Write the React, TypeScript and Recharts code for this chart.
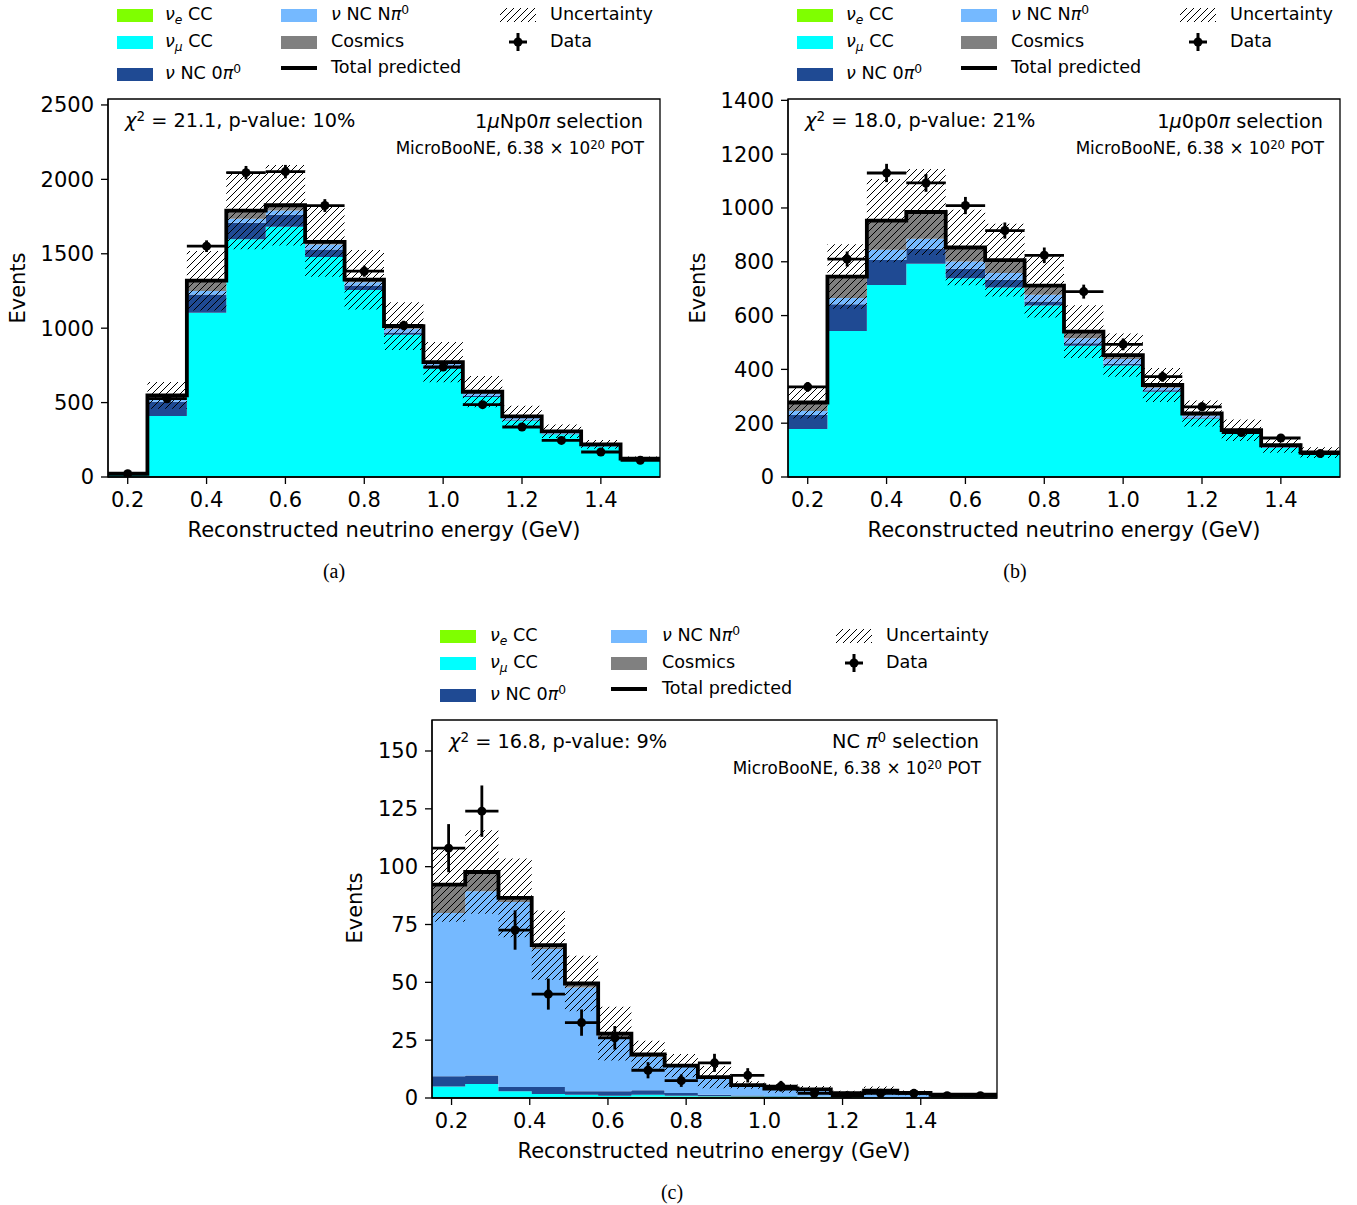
import React from 'react';
import { ComposedChart, Area, Line, Scatter, ErrorBar, XAxis, YAxis, ReferenceArea } from 'recharts';

const FONT = "'DejaVu Sans', sans-serif";
const COL = { nue: '#7fff00', numu: '#00ffff', nc0: '#1f4a93', ncn: '#75b9ff', cos: '#808080' };

// ---------- Panel (a): 1muNp0pi ----------
const edgesA = [0.15, 0.25, 0.35, 0.45, 0.55, 0.65, 0.75, 0.85, 0.95, 1.05, 1.15, 1.25, 1.35, 1.45, 1.55];
const nueA = [1, 3, 5, 5, 5, 4, 4, 3, 3, 2, 2, 1, 1, 1];
const numuA = [17, 407, 1098, 1592, 1677, 1474, 1253, 953, 724, 535, 378, 286, 204, 113];
const nc0A = [2, 95, 124, 112, 80, 50, 30, 15, 10, 8, 6, 4, 3, 2];
const ncnA = [1, 15, 23, 27, 29, 35, 22, 25, 22, 18, 13, 10, 7, 4];
const cosA = [1, 28, 69, 54, 35, 17, 17, 18, 13, 10, 8, 6, 4, 3];
const uncA = [8, 90, 200, 260, 270, 235, 200, 160, 135, 105, 72, 45, 30, 15];
const dataA = [22, 526, 1551, 2045, 2052, 1824, 1383, 1018, 739, 486, 336, 246, 168, 112];
const errA = [5, 23, 39, 45, 45, 43, 37, 32, 27, 22, 18, 16, 13, 11];
const yTicksA = [0, 500, 1000, 1500, 2000, 2500];

// ---------- Panel (b): 1mu0p0pi ----------
const edgesB = [0.15, 0.25, 0.35, 0.45, 0.55, 0.65, 0.75, 0.85, 0.95, 1.05, 1.15, 1.25, 1.35, 1.45, 1.55];
const nueB = [1, 2, 3, 3, 3, 3, 2, 2, 2, 1, 1, 1, 1, 1];
const numuB = [177, 541, 711, 790, 736, 701, 635, 486, 412, 316, 216, 159, 107, 82];
const nc0B = [52, 99, 93, 55, 35, 29, 15, 9, 7, 5, 4, 3, 2, 2];
const ncnB = [15, 23, 38, 38, 27, 25, 25, 19, 18, 10, 8, 5, 4, 3];
const cosB = [32, 80, 108, 99, 52, 48, 34, 24, 14, 10, 7, 6, 4, 3];
const uncB = [60, 120, 155, 160, 140, 135, 118, 98, 80, 63, 48, 40, 28, 20];
const dataB = [335, 810, 1130, 1093, 1009, 916, 824, 689, 493, 373, 261, 165, 145, 87];
const errB = [18, 28, 34, 33, 32, 30, 29, 26, 22, 19, 16, 13, 12, 9];
const yTicksB = [0, 200, 400, 600, 800, 1000, 1200, 1400];

// ---------- Panel (c): NC pi0 ----------
const edgesC = [0.15, 0.235, 0.32, 0.405, 0.49, 0.575, 0.66, 0.745, 0.83, 0.915, 1.0, 1.085, 1.17, 1.255, 1.34, 1.425, 1.51, 1.595];
const nueC = [0.3, 0.2, 0.2, 0.2, 0.3, 0.4, 0.5, 0.5, 0.5, 0.5, 0.4, 0.4, 0.2, 0.2, 0.1, 0.2, 0.1];
const numuC = [4.7, 5.8, 2.7, 1.5, 1.1, 0.6, 0.9, 0.5, 0.3, 0.2, 0.2, 0.1, 0.1, 0.1, 0.1, 0.1, 0.1];
const nc0C = [4.4, 3.7, 1.9, 3.1, 1.5, 1.9, 1.9, 1.2, 0.6, 0.4, 0.3, 0.2, 0.1, 0.1, 0.1, 0.1, 0.1];
const ncnC = [70.6, 79.7, 79.9, 59.6, 44.9, 23.6, 14.5, 11.3, 7.2, 4.3, 3.0, 2.8, 1.6, 2.6, 1.8, 0.9, 1.0];
const cosC = [12.2, 8.3, 1.8, 1.7, 1.7, 1.3, 1.0, 0.5, 0.4, 0.2, 0.2, 0.2, 0.1, 0.2, 0.1, 0.1, 0.1];
const uncC = [16, 18, 17, 15, 12, 11.6, 6, 5, 4.8, 1.6, 1.8, 1.5, 1, 1.8, 1, 0.8, 0.8];
const dataC = [108, 124, 72.6, 44.9, 32.6, 26, 12, 7.5, 15.2, 9.8, 5.1, 2, 1, 2, 2, 1, 1];
const errC = [10.4, 11.1, 8.5, 6.7, 5.7, 5.1, 3.5, 2.7, 3.9, 3.1, 2.3, 1.4, 1, 1.4, 1.4, 1, 1];
const yTicksC = [0, 25, 50, 75, 100, 125, 150];

const xTicks = [0.2, 0.4, 0.6, 0.8, 1.0, 1.2, 1.4];

function buildSteps(edges, nue, numu, nc0, ncn, cos, unc) {
  const n = nue.length;
  const rows = [];
  for (let i = 0; i <= n; i++) {
    const j = Math.min(i, n - 1);
    const total = nue[j] + numu[j] + nc0[j] + ncn[j] + cos[j];
    rows.push({ x: edges[i], nue: nue[j], numu: numu[j], nc0: nc0[j], ncn: ncn[j], cos: cos[j], total, band: [total - unc[j], total + unc[j]] });
  }
  return rows;
}
function buildPoints(edges, data, err) {
  return data.map((y, i) => ({ x: (edges[i] + edges[i + 1]) / 2, y, ex: (edges[i + 1] - edges[i]) / 2, ey: err[i] }));
}

const tickStyle = { fill: '#000', fontSize: 21, fontFamily: FONT };

function Panel({ rows, pts, xDom, yDom, yTicks, width, height, top, plotW }) {
  return (
    <ComposedChart width={width} height={height} data={rows} margin={{ top, right: width - 108 - plotW, left: 0, bottom: height - top - 378 - 40 }}>
      <XAxis type="number" dataKey="x" domain={xDom} allowDataOverflow ticks={xTicks}
        tickFormatter={(v) => v.toFixed(1)} height={40} tickSize={7} tickMargin={8}
        tick={tickStyle} axisLine={{ stroke: '#000', strokeWidth: 1.3 }} tickLine={{ stroke: '#000', strokeWidth: 1.3 }} />
      <YAxis type="number" domain={yDom} allowDataOverflow ticks={yTicks} width={108} tickSize={7} tickMargin={7}
        tick={tickStyle} axisLine={{ stroke: '#000', strokeWidth: 1.3 }} tickLine={{ stroke: '#000', strokeWidth: 1.3 }} />
      <Area type="stepAfter" dataKey="nue" stackId="s" fill={COL.nue} fillOpacity={1} stroke="none" isAnimationActive={false} />
      <Area type="stepAfter" dataKey="numu" stackId="s" fill={COL.numu} fillOpacity={1} stroke="none" isAnimationActive={false} />
      <Area type="stepAfter" dataKey="nc0" stackId="s" fill={COL.nc0} fillOpacity={1} stroke="none" isAnimationActive={false} />
      <Area type="stepAfter" dataKey="ncn" stackId="s" fill={COL.ncn} fillOpacity={1} stroke="none" isAnimationActive={false} />
      <Area type="stepAfter" dataKey="cos" stackId="s" fill={COL.cos} fillOpacity={1} stroke="none" isAnimationActive={false} />
      <Area type="stepAfter" dataKey="band" fill="url(#hatchPat)" fillOpacity={1} stroke="none" isAnimationActive={false} />
      <Line type="stepAfter" dataKey="total" stroke="#000" strokeWidth={3.8} dot={false} isAnimationActive={false} />
      <Scatter data={pts} dataKey="y" fill="#000" isAnimationActive={false}>
        <ErrorBar dataKey="ex" direction="x" width={0} stroke="#000" strokeWidth={2.8} isAnimationActive={false} />
        <ErrorBar dataKey="ey" direction="y" width={0} stroke="#000" strokeWidth={2.8} isAnimationActive={false} />
      </Scatter>
      <ReferenceArea x1={xDom[0]} x2={xDom[1]} y1={yDom[0]} y2={yDom[1]} fill="none" fillOpacity={0}
        stroke="#000" strokeWidth={1.3} ifOverflow="visible" />
    </ComposedChart>
  );
}

function T({ x, y, size = 21, align = 'left', children, family = FONT, rotate = false }) {
  let tr = 'translate(0,-50%)';
  if (align === 'center') tr = 'translate(-50%,-50%)';
  if (align === 'right') tr = 'translate(-100%,-50%)';
  if (rotate) tr = 'translate(-50%,-50%) rotate(-90deg)';
  return (
    <div style={{ position: 'absolute', left: x, top: y, fontSize: size, fontFamily: family, lineHeight: 1, whiteSpace: 'nowrap', transform: tr, color: '#000' }}>
      {children}
    </div>
  );
}

const Sup = ({ children }) => <span style={{ fontSize: '70%', position: 'relative', top: '-0.45em' }}>{children}</span>;
const Sub = ({ children }) => <span style={{ fontSize: '70%', position: 'relative', top: '0.3em' }}>{children}</span>;

function Patch({ x, y, color }) {
  return <div style={{ position: 'absolute', left: x, top: y - 6.5, width: 36, height: 13, background: color }} />;
}

function Legend({ c1, t1, c2, t2, c3, t3, r1, r2, r3a, r3b }) {
  const fs = 17.6;
  return (
    <>
      <Patch x={c1} y={r1} color={COL.nue} />
      <T x={t1} y={r1} size={fs}><i>ν</i><Sub><i>e</i></Sub> CC</T>
      <Patch x={c1} y={r2} color={COL.numu} />
      <T x={t1} y={r2} size={fs}><i>ν</i><Sub><i>μ</i></Sub> CC</T>
      <Patch x={c1} y={r3a} color={COL.nc0} />
      <T x={t1} y={r3a} size={fs}><i>ν</i> NC 0<i>π</i><Sup>0</Sup></T>
      <Patch x={c2} y={r1} color={COL.ncn} />
      <T x={t2} y={r1} size={fs}><i>ν</i> NC N<i>π</i><Sup>0</Sup></T>
      <Patch x={c2} y={r2} color={COL.cos} />
      <T x={t2} y={r2} size={fs}>Cosmics</T>
      <div style={{ position: 'absolute', left: c2, top: r3b - 2, width: 36, height: 4, background: '#000' }} />
      <T x={t2} y={r3b} size={fs}>Total predicted</T>
      <svg style={{ position: 'absolute', left: c3, top: r1 - 7 }} width={36} height={14}>
        <rect x={0} y={0} width={36} height={14} fill="url(#hatchPat)" />
      </svg>
      <T x={t3} y={r1} size={fs}>Uncertainty</T>
      <svg style={{ position: 'absolute', left: c3 + 8, top: r2 - 10 }} width={20} height={20}>
        <line x1={1} y1={10} x2={19} y2={10} stroke="#000" strokeWidth={3} />
        <line x1={10} y1={1} x2={10} y2={19} stroke="#000" strokeWidth={3} />
        <circle cx={10} cy={10} r={4.5} fill="#000" />
      </svg>
      <T x={t3} y={r2} size={fs}>Data</T>
    </>
  );
}

const MB = () => <>MicroBooNE, 6.38 × 10<Sup>20</Sup> POT</>;

export default function App() {
  const rowsA = buildSteps(edgesA, nueA, numuA, nc0A, ncnA, cosA, uncA);
  const rowsB = buildSteps(edgesB, nueB, numuB, nc0B, ncnB, cosB, uncB);
  const rowsC = buildSteps(edgesC, nueC, numuC, nc0C, ncnC, cosC, uncC);
  const ptsA = buildPoints(edgesA, dataA, errA);
  const ptsB = buildPoints(edgesB, dataB, errB);
  const ptsC = buildPoints(edgesC, dataC, errC);
  return (
    <div style={{ position: 'absolute', left: 0, top: 0, width: 1357, height: 1205, background: '#fff', overflow: 'hidden' }}>
      <svg width={0} height={0} style={{ position: 'absolute' }}>
        <defs>
          <pattern id="hatchPat" patternUnits="userSpaceOnUse" width={7} height={7}>
            <path d="M-1,1 L1,-1 M0,7 L7,0 M6,8 L8,6" stroke="#000" strokeWidth={1} />
          </pattern>
        </defs>
      </svg>

      <div style={{ position: 'absolute', left: 0, top: 0 }}>
        <Panel rows={rowsA} pts={ptsA} xDom={[0.15, 1.55]} plotW={552} yDom={[0, 2540]} yTicks={yTicksA} width={680} height={560} top={99} />
      </div>
      <div style={{ position: 'absolute', left: 680, top: 0 }}>
        <Panel rows={rowsB} pts={ptsB} xDom={[0.15, 1.55]} plotW={552} yDom={[0, 1405]} yTicks={yTicksB} width={677} height={560} top={99} />
      </div>
      <div style={{ position: 'absolute', left: 324, top: 620 }}>
        <Panel rows={rowsC} pts={ptsC} xDom={[0.15, 1.595]} plotW={565} yDom={[0, 163.4]} yTicks={yTicksC} width={700} height={560} top={100} />
      </div>

      {/* Panel a texts */}
      <Legend c1={117} t1={165} c2={281} t2={331} c3={500} t3={550} r1={15} r2={42} r3a={74} r3b={68} />
      <T x={125} y={121} size={19.3}><i>χ</i><Sup>2</Sup> = 21.1, p-value: 10%</T>
      <T x={643} y={122} size={19.3} align="right">1<i>μ</i>Np0<i>π</i> selection</T>
      <T x={644} y={148} size={16.8} align="right"><MB /></T>
      <T x={18} y={288} rotate>Events</T>
      <T x={384} y={530} align="center">Reconstructed neutrino energy (GeV)</T>
      <T x={334} y={571} size={20} align="center" family="'Liberation Serif', serif">(a)</T>

      {/* Panel b texts */}
      <Legend c1={797} t1={846} c2={961} t2={1011} c3={1180} t3={1230} r1={15} r2={42} r3a={74} r3b={68} />
      <T x={805} y={121} size={19.3}><i>χ</i><Sup>2</Sup> = 18.0, p-value: 21%</T>
      <T x={1323} y={122} size={19.3} align="right">1<i>μ</i>0p0<i>π</i> selection</T>
      <T x={1324} y={148} size={16.8} align="right"><MB /></T>
      <T x={698} y={288} rotate>Events</T>
      <T x={1064} y={530} align="center">Reconstructed neutrino energy (GeV)</T>
      <T x={1015} y={571} size={20} align="center" family="'Liberation Serif', serif">(b)</T>

      {/* Panel c texts */}
      <Legend c1={440} t1={490} c2={611} t2={662} c3={836} t3={886} r1={636} r2={663} r3a={695} r3b={689} />
      <T x={449} y={742} size={19.3}><i>χ</i><Sup>2</Sup> = 16.8, p-value: 9%</T>
      <T x={979} y={742} size={19.3} align="right">NC <i>π</i><Sup>0</Sup> selection</T>
      <T x={981} y={768} size={16.8} align="right"><MB /></T>
      <T x={355} y={908} rotate>Events</T>
      <T x={714} y={1151} align="center">Reconstructed neutrino energy (GeV)</T>
      <T x={672} y={1192} size={20} align="center" family="'Liberation Serif', serif">(c)</T>
    </div>
  );
}
